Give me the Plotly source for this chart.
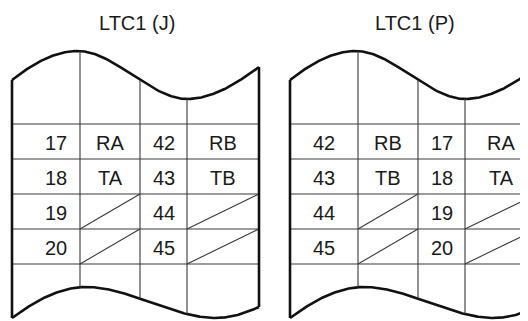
import numpy as np
import plotly.graph_objects as go

# ---- content ----
titles = ["LTC1 (J)", "LTC1 (P)"]
col1_J = ["17", "18", "19", "20"]
col2_J = ["RA", "TA", "", ""]
col3_J = ["42", "43", "44", "45"]
col4_J = ["RB", "TB", "", ""]
col1_P = ["42", "43", "44", "45"]
col2_P = ["RB", "TB", "", ""]
col3_P = ["17", "18", "19", "20"]
col4_P = ["RA", "TA", "", ""]
tables = [[col1_J, col2_J, col3_J, col4_J], [col1_P, col2_P, col3_P, col4_P]]

# ---- geometry (page pixels) ----
W, H = 528, 321
PAGE_MARGIN = 8  # default body margin of the html page
X0 = [12, 290]
COLS = [0, 68, 128, 175, 247]
ROWS = [124, 159, 194, 229, 264]
TEXT_DX = [[10, 0, 0, 0], [0, 0, 0, 0]]
TOP_KNOTS = [(0, 80, -0.8), (66, 51, 0.0), (175, 99, 0.0), (247, 67, -0.75)]
BOT_KNOTS = [(0, 318, -0.75), (74, 287, 0.0), (204, 318, 0.0), (247, 307, -0.45)]
FONT = "Liberation Sans, Arial, sans-serif"
THICK = 2.6
THIN = 1.1
GRID = "#3a3a3a"


def hermite(knots, x):
    x = np.atleast_1d(np.asarray(x, dtype=float))
    y = np.zeros_like(x)
    for i in range(len(knots) - 1):
        xa, ya, ma = knots[i]
        xb, yb, mb = knots[i + 1]
        m = (x >= xa) & (x <= xb)
        h = xb - xa
        t = (x[m] - xa) / h
        h00 = 2 * t**3 - 3 * t**2 + 1
        h10 = t**3 - 2 * t**2 + t
        h01 = -2 * t**3 + 3 * t**2
        h11 = t**3 - t**2
        y[m] = h00 * ya + h10 * h * ma + h01 * yb + h11 * h * mb
    return y


fig = go.Figure()
shapes = []
annotations = []


def line(x0, y0, x1, y1, width, color):
    shapes.append(dict(type="line", x0=x0, y0=y0, x1=x1, y1=y1, xref="x", yref="y",
                       line=dict(width=width, color=color)))


for d, x0 in enumerate(X0):
    xs = np.linspace(0, COLS[-1], 300)
    top = hermite(TOP_KNOTS, xs)
    bot = hermite(BOT_KNOTS, xs)
    for ry in ROWS:
        line(x0, ry, x0 + COLS[-1], ry, THIN, GRID)
    for cx in COLS[1:-1]:
        ty = float(hermite(TOP_KNOTS, cx)[0])
        by = float(hermite(BOT_KNOTS, cx)[0])
        line(x0 + cx, ty, x0 + cx, by, THIN, GRID)
    cols = tables[d]
    for c in range(4):
        for r in range(4):
            txt = cols[c][r]
            if txt == "":
                line(x0 + COLS[c], ROWS[r + 1], x0 + COLS[c + 1], ROWS[r], THIN, GRID)
            else:
                annotations.append(dict(x=x0 + (COLS[c] + COLS[c + 1]) / 2 + TEXT_DX[d][c],
                                        y=(ROWS[r] + ROWS[r + 1]) / 2 + 1.5,
                                        text=txt, showarrow=False, xref="x", yref="y",
                                        xanchor="center", yanchor="middle",
                                        font=dict(family=FONT, size=20, color="#1a1a1a")))
    fig.add_trace(go.Scatter(x=x0 + xs, y=top, mode="lines",
                             line=dict(color="#111", width=THICK), hoverinfo="skip"))
    fig.add_trace(go.Scatter(x=x0 + xs, y=bot, mode="lines",
                             line=dict(color="#111", width=THICK), hoverinfo="skip"))
    line(x0, float(top[0]), x0, float(bot[0]), THICK, "#111")
    line(x0 + COLS[-1], float(top[-1]), x0 + COLS[-1], float(bot[-1]), THICK, "#111")
    annotations.append(dict(x=x0 + COLS[-1] / 2 + 1, y=23, text=titles[d], showarrow=False,
                            xref="x", yref="y", xanchor="center", yanchor="middle",
                            font=dict(family=FONT, size=20, color="#1a1a1a")))

fig.update_layout(
    width=W - PAGE_MARGIN, height=H - PAGE_MARGIN, margin=dict(l=0, r=0, t=0, b=0),
    paper_bgcolor="white", plot_bgcolor="white", showlegend=False,
    xaxis=dict(range=[PAGE_MARGIN, W], visible=False, fixedrange=True),
    yaxis=dict(range=[H, PAGE_MARGIN], visible=False, fixedrange=True),
    shapes=shapes, annotations=annotations,
)
fig.write_html("out.html")
